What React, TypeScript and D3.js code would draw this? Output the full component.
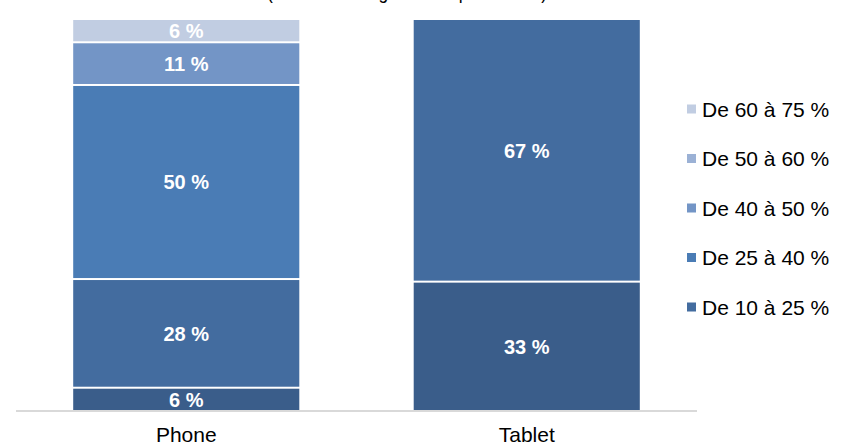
import React, { useEffect } from "react";
import * as d3 from "d3";

const categories = ["Phone", "Tablet"];
const seriesKeys = ["Moins de 10 %", "De 10 à 25 %", "De 25 à 40 %", "De 40 à 50 %", "De 50 à 60 %", "De 60 à 75 %"];
const phoneValues = [6, 28, 50, 11, 0, 6];
const tabletValues = [33, 67, 0, 0, 0, 0];
const legendKeys = ["De 60 à 75 %", "De 50 à 60 %", "De 40 à 50 %", "De 25 à 40 %", "De 10 à 25 %"];
const subtitle = "(en % des usages sur la plateforme)";

const colors = ["#3a5d8a", "#436c9f", "#4a7cb5", "#7395c6", "#9bb1d5", "#c1cde2"];

const W = 846;
const H = 444;
const FONT = "'Liberation Sans', Arial, sans-serif";

export default function App() {
  useEffect(() => {
    document.body.style.margin = "0";
  }, []);

  const rows = categories.map((c, i) => {
    const vals = i === 0 ? phoneValues : tabletValues;
    const o: any = { cat: c };
    seriesKeys.forEach((k, j) => (o[k] = vals[j]));
    return o;
  });

  const stack = d3.stack<any>().keys(seriesKeys).offset(d3.stackOffsetExpand);
  const stacked = stack(rows);

  const x = d3.scalePoint<string>().domain(categories).range([16, 697]).padding(0.5);
  const barW = x.step() * 0.664;
  const y = d3.scaleLinear().domain([0, 1]).range([411, 19]);

  const color = d3.scaleOrdinal<string, string>().domain(seriesKeys).range(colors);
  const legendY = d3.scalePoint<string>().domain(legendKeys).range([109, 307]);

  return (
    <svg width={W} height={H} style={{ display: "block" }} fontFamily={FONT}>
      <text x={407} y={-1} textAnchor="middle" fontSize={21} fill="#000" textLength={280} lengthAdjust="spacingAndGlyphs">
        {subtitle}
      </text>
      {stacked.map((s, si) => (
        <g key={s.key} fill={color(s.key)}>
          {s.map((d, di) => {
            const cat = (d.data as any).cat;
            const v = (d.data as any)[s.key];
            if (!v) return null;
            const y0 = y(d[0]);
            const y1 = y(d[1]);
            const cx = x(cat)!;
            return (
              <g key={cat}>
                <rect x={cx - barW / 2} y={y1 + 1} width={barW} height={Math.max(0, y0 - y1 - 2)} />
                <text
                  x={cx}
                  y={(y0 + y1) / 2}
                  dy="0.36em"
                  textAnchor="middle"
                  fontSize={20}
                  fontWeight="bold"
                  fill="#ffffff"
                >
                  {`${v} %`}
                </text>
              </g>
            );
          })}
        </g>
      ))}
      <line x1={16} x2={697} y1={411} y2={411} stroke="#d9d9d9" strokeWidth={2} />
      {categories.map((c) => (
        <text key={c} x={x(c)} y={442} textAnchor="middle" fontSize={21} fill="#000">
          {c}
        </text>
      ))}
      {legendKeys.map((k) => (
        <g key={k} transform={`translate(0,${legendY(k)})`}>
          <rect x={687} y={-4.5} width={9} height={9} fill={color(k)} />
          <text x={702} y={0} dy="0.36em" fontSize={21} fill="#000">
            {k}
          </text>
        </g>
      ))}
    </svg>
  );
}
